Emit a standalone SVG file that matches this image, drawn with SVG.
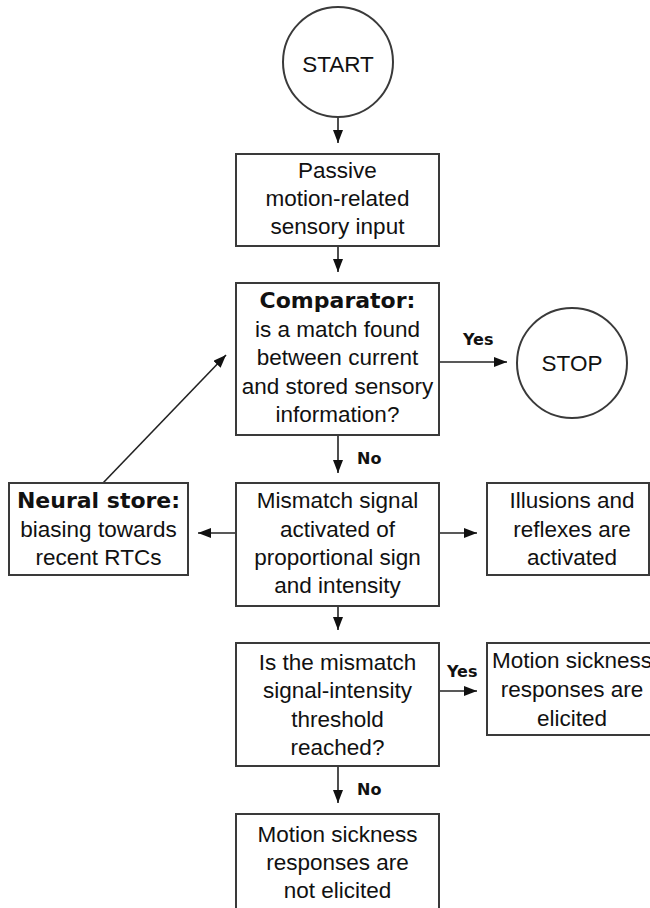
<svg xmlns="http://www.w3.org/2000/svg" width="650" height="908" viewBox="0 0 650 908">
<style>
.box{fill:#fff;stroke:#3a3a3a;stroke-width:2}
.t{font-family:"Liberation Sans",Arial,sans-serif;font-size:22.5px;fill:#111;text-anchor:middle}
.b{font-family:"DejaVu Sans",Verdana,sans-serif;font-weight:bold;font-size:22px;fill:#111;text-anchor:middle}
.lb{font-family:"DejaVu Sans",Verdana,sans-serif;font-weight:bold;font-size:16px;fill:#111}
.c{stroke:#222;stroke-width:1.6;fill:none;marker-end:url(#ah)}
</style>
<defs>
<marker id="ah" viewBox="0 0 13 10" refX="13" refY="5" markerWidth="13" markerHeight="10" markerUnits="userSpaceOnUse" orient="auto">
<path d="M0,0 L13,5 L0,10 Z" fill="#111"/>
</marker>
</defs>
<rect width="650" height="908" fill="#fff"/>
<g id="connectors">
<line class="c" x1="338" y1="117" x2="338" y2="143"/>
<line class="c" x1="338" y1="246" x2="338" y2="272"/>
<line class="c" x1="439" y1="362" x2="507" y2="362"/>
<line class="c" x1="338" y1="435" x2="338" y2="473"/>
<line class="c" x1="236" y1="533" x2="198" y2="533"/>
<line class="c" x1="439" y1="533" x2="477" y2="533"/>
<line class="c" x1="103" y1="483" x2="226" y2="355"/>
<line class="c" x1="338" y1="606" x2="338" y2="630"/>
<line class="c" x1="439" y1="691" x2="477" y2="691"/>
<line class="c" x1="338" y1="766" x2="338" y2="803"/>
<text class="lb" x="463" y="345">Yes</text>
<text class="lb" x="357" y="464">No</text>
<text class="lb" x="447" y="677">Yes</text>
<text class="lb" x="357" y="795">No</text>
</g>
<g id="start">
<circle class="box" cx="338" cy="62" r="55"/>
<text class="t" x="338" y="72">START</text>
</g>
<g id="passive">
<rect class="box" x="236" y="154" width="203" height="92"/>
<text class="t" x="337.5" y="178">Passive</text>
<text class="t" x="337.5" y="206">motion-related</text>
<text class="t" x="337.5" y="234">sensory input</text>
</g>
<g id="comparator">
<rect class="box" x="236" y="283" width="203" height="152"/>
<text class="b" x="337.5" y="308">Comparator:</text>
<text class="t" x="337.5" y="337">is a match found</text>
<text class="t" x="337.5" y="365">between current</text>
<text class="t" x="337.5" y="394">and stored sensory</text>
<text class="t" x="337.5" y="422">information?</text>
</g>
<g id="stop">
<circle class="box" cx="572" cy="363" r="55"/>
<text class="t" x="572" y="371">STOP</text>
</g>
<g id="mismatch">
<rect class="box" x="236" y="483" width="203" height="123"/>
<text class="t" x="337.5" y="508">Mismatch signal</text>
<text class="t" x="337.5" y="537">activated of</text>
<text class="t" x="337.5" y="565">proportional sign</text>
<text class="t" x="337.5" y="593">and intensity</text>
</g>
<g id="neural-store">
<rect class="box" x="9" y="483" width="179" height="92"/>
<text class="b" x="98.5" y="508">Neural store:</text>
<text class="t" x="98.5" y="537">biasing towards</text>
<text class="t" x="98.5" y="565">recent RTCs</text>
</g>
<g id="illusions">
<rect class="box" x="487" y="483" width="162" height="92"/>
<text class="t" x="572" y="508">Illusions and</text>
<text class="t" x="572" y="537">reflexes are</text>
<text class="t" x="572" y="565">activated</text>
</g>
<g id="threshold">
<rect class="box" x="236" y="643" width="203" height="123"/>
<text class="t" x="337.5" y="670">Is the mismatch</text>
<text class="t" x="337.5" y="698">signal-intensity</text>
<text class="t" x="337.5" y="727">threshold</text>
<text class="t" x="337.5" y="755">reached?</text>
</g>
<g id="elicited">
<rect class="box" x="487" y="643" width="175" height="92"/>
<text class="t" x="572" y="668">Motion sickness</text>
<text class="t" x="572" y="697">responses are</text>
<text class="t" x="572" y="726">elicited</text>
</g>
<g id="not-elicited">
<rect class="box" x="236" y="814" width="203" height="110"/>
<text class="t" x="337.5" y="842">Motion sickness</text>
<text class="t" x="337.5" y="870">responses are</text>
<text class="t" x="337.5" y="898">not elicited</text>
</g>
</svg>
